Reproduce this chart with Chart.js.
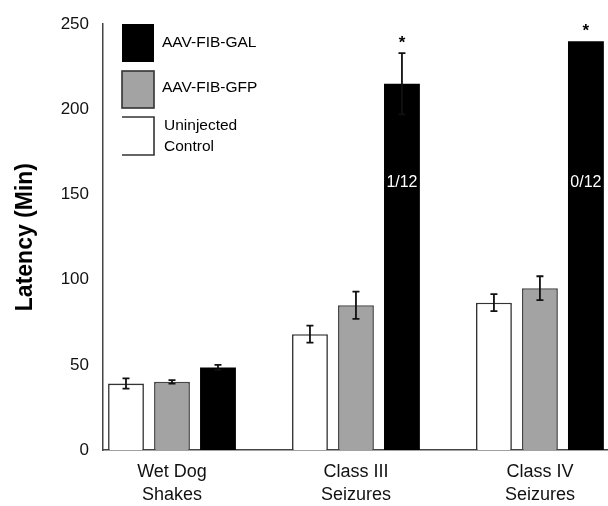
<!DOCTYPE html>
<html>
<head>
<meta charset="utf-8">
<script src="https://cdn.jsdelivr.net/npm/chart.js@4/dist/chart.umd.min.js"></script>
<style>
  html, body { margin: 0; padding: 0; background: #fff; overflow: hidden; }
  #wrap { width: 608px; height: 506px; position: relative; }
</style>
</head>
<body>
<div id="wrap"><canvas id="grafica"></canvas></div>
<script>
// Datos
const categorias = [['Wet Dog', 'Shakes'], ['Class III', 'Seizures'], ['Class IV', 'Seizures']];
const nombres = ['Uninjected Control', 'AAV-FIB-GFP', 'AAV-FIB-GAL'];
const control = [39, 68, 86.5];
const controlErr = [3, 5, 5];
const gfp = [40, 85, 95];
const gfpErr = [1, 8, 7];
const gal = [48.5, 215, 240];
const galErr = [1.5, 18, 0];
const asteriscos = ['', '*', '*'];
const convulsionados = ['', '1/12', '0/12'];
const yTicks = [0, 50, 100, 150, 200, 250];

const FUENTE = 'Arial, "Liberation Sans", sans-serif';
const errores = [controlErr, gfpErr, galErr];

function puntos(valores) {
    return valores.map((v, i) => ({ x: i, y: v }));
}

// Barras de error, asteriscos y textos dentro de las barras
const pluginErrores = {
    id: 'errores',
    afterDatasetsDraw(chart) {
        const ctx = chart.ctx;
        const y = chart.scales.y;
        ctx.save();
        chart.data.datasets.forEach((ds, d) => {
            const meta = chart.getDatasetMeta(d);
            meta.data.forEach((bar, i) => {
                const err = errores[d][i];
                if (!err) return;
                const v = ds.data[i].y;
                const top = y.getPixelForValue(v + err);
                const bot = y.getPixelForValue(v - err);
                ctx.strokeStyle = '#111';
                ctx.lineWidth = 1.8;
                ctx.beginPath();
                ctx.moveTo(bar.x, top); ctx.lineTo(bar.x, bot);
                ctx.moveTo(bar.x - 3.5, top); ctx.lineTo(bar.x + 3.5, top);
                ctx.moveTo(bar.x - 3.5, bot); ctx.lineTo(bar.x + 3.5, bot);
                ctx.stroke();
            });
        });
        // asteriscos y n/12 sobre la serie GAL
        const metaGal = chart.getDatasetMeta(2);
        metaGal.data.forEach((bar, i) => {
            const tope = y.getPixelForValue(gal[i] + galErr[i]);
            ctx.fillStyle = '#000';
            ctx.font = 'bold 17px ' + FUENTE;
            ctx.textAlign = 'center';
            ctx.textBaseline = 'middle';
            if (asteriscos[i]) ctx.fillText(asteriscos[i], bar.x, tope - 10);
            if (convulsionados[i]) {
                ctx.fillStyle = '#fff';
                ctx.font = '16px ' + FUENTE;
                ctx.fillText(convulsionados[i], bar.x, y.getPixelForValue(157));
            }
        });
        ctx.restore();
    }
};

// Leyenda dibujada a mano (la caja blanca sin borde izquierdo)
const pluginLeyenda = {
    id: 'leyendaManual',
    afterDraw(chart) {
        const ctx = chart.ctx;
        const ds = chart.data.datasets;
        ctx.save();
        ctx.lineWidth = 1.6;
        ctx.strokeStyle = '#333';
        ctx.fillStyle = ds[2].backgroundColor;
        ctx.fillRect(122, 24, 32, 38);
        ctx.fillStyle = ds[1].backgroundColor;
        ctx.fillRect(122, 71, 32, 37);
        ctx.strokeRect(122, 71, 32, 37);
        ctx.beginPath();
        ctx.moveTo(122, 117); ctx.lineTo(154, 117); ctx.lineTo(154, 155); ctx.lineTo(122, 155);
        ctx.stroke();
        ctx.fillStyle = '#000';
        ctx.font = '15.5px ' + FUENTE;
        ctx.textAlign = 'left';
        ctx.textBaseline = 'middle';
        ctx.fillText(nombres[2], 162, 43);
        ctx.fillText(nombres[1], 162, 88);
        ctx.fillText('Uninjected', 164, 126);
        ctx.fillText('Control', 164, 147);
        ctx.restore();
    }
};

function crearGrafica() {
    const ctx = document.getElementById('grafica').getContext('2d');
    window.resultChart = new Chart(ctx, {
        type: 'bar',
        data: {
            datasets: [
                { label: nombres[0], data: puntos(control), backgroundColor: '#ffffff', borderColor: '#333', borderWidth: 1.6 },
                { label: nombres[1], data: puntos(gfp), backgroundColor: '#a3a3a3', borderColor: '#444', borderWidth: 1.6 },
                { label: nombres[2], data: puntos(gal), backgroundColor: '#000000', borderColor: '#000', borderWidth: 0 }
            ]
        },
        options: {
            responsive: true,
            maintainAspectRatio: false,
            animation: false,
            layout: { padding: { top: 22, right: 0, left: 0, bottom: 0 } },
            datasets: { bar: { categoryPercentage: 0.75, barPercentage: 0.78 } },
            plugins: { legend: { display: false }, tooltip: { enabled: false } },
            scales: {
                x: {
                    type: 'linear',
                    min: -0.375,
                    max: 2.37,
                    offset: false,
                    grid: { display: false, drawTicks: false, offset: false },
                    border: { display: true, color: '#444', width: 1.5 },
                    afterBuildTicks: (scale) => { scale.ticks = [0, 1, 2].map(v => ({ value: v })); },
                    afterFit: (scale) => { scale.height = 56; },
                    ticks: {
                        padding: 10,
                        color: '#111',
                        autoSkip: false,
                        maxRotation: 0,
                        font: { family: FUENTE, size: 18, lineHeight: 1.3 },
                        callback: (v) => categorias[v]
                    }
                },
                y: {
                    min: 0,
                    max: 250,
                    grid: { display: false, drawTicks: false },
                    border: { display: true, color: '#444', width: 1.5 },
                    afterBuildTicks: (scale) => { scale.ticks = yTicks.map(v => ({ value: v })); },
                    afterFit: (scale) => { scale.width = 103; },
                    ticks: {
                        padding: 14,
                        color: '#111',
                        font: { family: FUENTE, size: 17 }
                    },
                    title: {
                        display: true,
                        text: 'Latency (Min)',
                        color: '#000',
                        padding: { top: 12, bottom: 0 },
                        font: { family: FUENTE, size: 23, weight: 'bold' }
                    }
                }
            }
        },
        plugins: [pluginErrores, pluginLeyenda]
    });
}

crearGrafica();
</script>
</body>
</html>
